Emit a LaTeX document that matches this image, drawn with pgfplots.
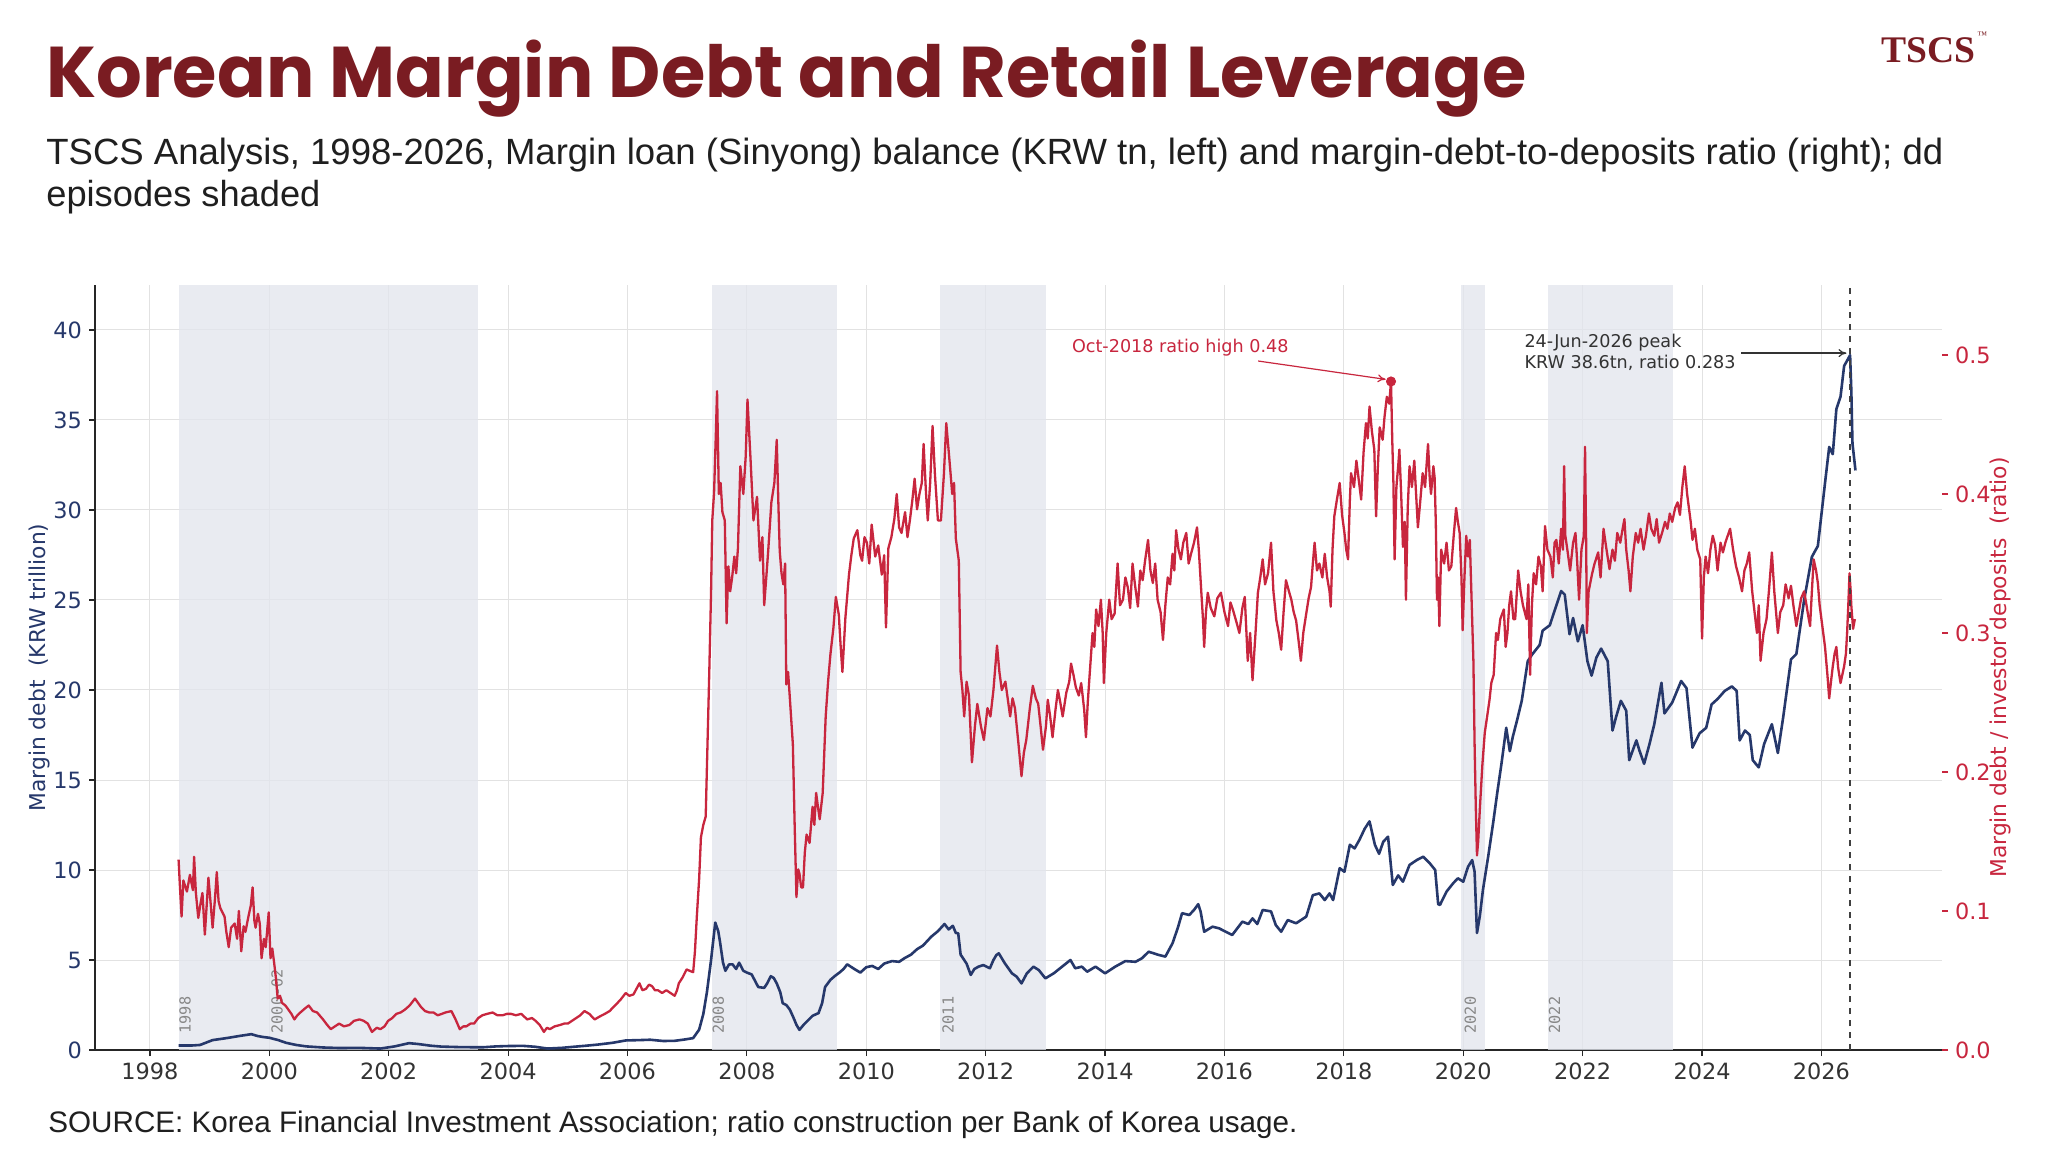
\documentclass[border=0pt]{standalone}
\usepackage{graphicx}
\usepackage{fontspec}
\setmainfont{DejaVu Sans}
\newfontfamily\titlefont{Poppins}
\newfontfamily\subfont{Liberation Sans}
\newfontfamily\logofont{Liberation Serif}
\newfontfamily\lblfont{DejaVu Sans Mono}
\usepackage{pgfplots}
\pgfplotsset{compat=1.18}
\usetikzlibrary{arrows.meta}

\definecolor{navy}{RGB}{38,56,107}
\definecolor{crim}{RGB}{200,38,62}
\definecolor{titlered}{RGB}{122,28,34}
\definecolor{shade}{RGB}{226,229,237}
\definecolor{gridc}{RGB}{226,226,226}
\definecolor{lblgray}{RGB}{135,135,135}

\pgfplotstableread{
x y
1998.48 0.25
1998.70 0.25
1998.84 0.28
1999.05 0.55
1999.20 0.62
1999.32 0.68
1999.50 0.78
1999.70 0.88
1999.80 0.78
1999.90 0.72
2000.00 0.68
2000.15 0.55
2000.28 0.40
2000.45 0.28
2000.62 0.20
2000.90 0.14
2001.17 0.11
2001.50 0.12
2001.86 0.08
2002.10 0.20
2002.34 0.38
2002.50 0.33
2002.70 0.24
2002.88 0.19
2003.20 0.16
2003.57 0.15
2003.80 0.20
2004.00 0.22
2004.25 0.23
2004.45 0.18
2004.66 0.08
2004.90 0.12
2005.10 0.18
2005.28 0.23
2005.50 0.30
2005.75 0.40
2005.97 0.53
2006.20 0.55
2006.38 0.57
2006.60 0.50
2006.79 0.51
2006.95 0.58
2007.10 0.66
2007.20 1.13
2007.27 2.0
2007.33 3.2
2007.40 5.0
2007.47 7.08
2007.52 6.6
2007.55 6.0
2007.60 4.85
2007.64 4.4
2007.70 4.75
2007.76 4.76
2007.82 4.5
2007.87 4.85
2007.94 4.4
2008.00 4.3
2008.08 4.2
2008.19 3.5
2008.29 3.45
2008.34 3.7
2008.40 4.1
2008.45 4.0
2008.50 3.7
2008.56 3.2
2008.60 2.6
2008.66 2.5
2008.72 2.24
2008.78 1.8
2008.83 1.4
2008.88 1.12
2008.95 1.4
2009.04 1.7
2009.10 1.9
2009.20 2.05
2009.26 2.6
2009.31 3.5
2009.40 3.9
2009.47 4.1
2009.55 4.3
2009.62 4.5
2009.68 4.76
2009.80 4.5
2009.90 4.3
2010.00 4.6
2010.10 4.67
2010.20 4.5
2010.30 4.8
2010.43 4.94
2010.55 4.9
2010.64 5.1
2010.75 5.3
2010.85 5.6
2010.95 5.8
2011.09 6.3
2011.20 6.6
2011.31 7.0
2011.38 6.7
2011.45 6.9
2011.50 6.5
2011.54 6.48
2011.58 5.3
2011.62 5.1
2011.68 4.8
2011.75 4.17
2011.81 4.5
2011.88 4.63
2011.96 4.72
2012.07 4.54
2012.13 5.0
2012.18 5.28
2012.22 5.37
2012.32 4.82
2012.44 4.26
2012.52 4.07
2012.60 3.7
2012.69 4.26
2012.80 4.63
2012.89 4.44
2013.00 3.98
2013.14 4.26
2013.28 4.63
2013.42 5.0
2013.50 4.54
2013.61 4.63
2013.70 4.35
2013.84 4.63
2014.00 4.26
2014.17 4.63
2014.34 4.94
2014.51 4.9
2014.62 5.1
2014.73 5.46
2014.90 5.28
2015.01 5.19
2015.13 5.93
2015.22 6.8
2015.29 7.6
2015.41 7.5
2015.49 7.78
2015.56 8.1
2015.60 7.7
2015.66 6.57
2015.80 6.85
2015.91 6.76
2016.02 6.57
2016.13 6.39
2016.30 7.13
2016.40 7.0
2016.47 7.31
2016.55 7.0
2016.64 7.78
2016.78 7.7
2016.86 6.94
2016.95 6.57
2017.06 7.22
2017.20 7.04
2017.37 7.41
2017.48 8.6
2017.59 8.7
2017.68 8.33
2017.76 8.7
2017.82 8.33
2017.93 10.1
2018.01 9.9
2018.10 11.4
2018.18 11.2
2018.26 11.67
2018.35 12.3
2018.43 12.7
2018.52 11.4
2018.59 10.9
2018.66 11.57
2018.74 11.85
2018.82 9.17
2018.91 9.7
2018.99 9.35
2019.10 10.28
2019.22 10.55
2019.33 10.74
2019.44 10.37
2019.53 10.0
2019.58 8.1
2019.61 8.06
2019.72 8.8
2019.83 9.26
2019.91 9.54
2020.00 9.35
2020.08 10.18
2020.15 10.55
2020.19 9.9
2020.23 6.5
2020.28 7.5
2020.33 8.9
2020.42 10.8
2020.50 12.6
2020.57 14.3
2020.64 15.9
2020.72 17.9
2020.78 16.6
2020.83 17.4
2020.90 18.3
2020.98 19.4
2021.08 21.6
2021.16 22.0
2021.28 22.5
2021.33 23.3
2021.45 23.6
2021.53 24.4
2021.64 25.5
2021.70 25.3
2021.78 23.1
2021.84 24.0
2021.92 22.7
2022.00 23.6
2022.08 21.6
2022.15 20.8
2022.23 21.8
2022.31 22.3
2022.42 21.6
2022.50 17.75
2022.56 18.5
2022.64 19.4
2022.73 18.85
2022.78 16.1
2022.90 17.2
2022.95 16.65
2023.03 15.9
2023.12 17.0
2023.20 18.1
2023.32 20.4
2023.37 18.7
2023.50 19.3
2023.65 20.5
2023.74 20.1
2023.84 16.8
2023.96 17.6
2024.07 17.9
2024.16 19.2
2024.26 19.5
2024.38 19.95
2024.50 20.2
2024.58 19.95
2024.63 17.2
2024.72 17.75
2024.80 17.5
2024.85 16.1
2024.95 15.7
2025.04 17.0
2025.17 18.1
2025.27 16.5
2025.36 18.5
2025.49 21.7
2025.58 22.0
2025.71 25.0
2025.84 27.4
2025.94 28.0
2026.06 31.5
2026.13 33.5
2026.19 33.1
2026.25 35.6
2026.32 36.3
2026.38 38.0
2026.48 38.6
2026.50 36.7
2026.52 33.7
2026.54 33.1
2026.57 32.2
}\debt

\pgfplotstableread{
x y
1998.48 0.137
1998.50 0.120
1998.53 0.096
1998.56 0.122
1998.62 0.114
1998.67 0.126
1998.72 0.115
1998.74 0.139
1998.77 0.113
1998.81 0.095
1998.85 0.106
1998.88 0.113
1998.92 0.083
1998.98 0.124
1999.02 0.104
1999.05 0.088
1999.09 0.109
1999.12 0.128
1999.15 0.107
1999.18 0.102
1999.25 0.096
1999.28 0.085
1999.32 0.074
1999.36 0.088
1999.42 0.091
1999.46 0.080
1999.49 0.100
1999.53 0.071
1999.57 0.089
1999.60 0.085
1999.65 0.096
1999.69 0.104
1999.72 0.117
1999.75 0.093
1999.77 0.088
1999.81 0.098
1999.84 0.091
1999.87 0.066
1999.91 0.080
1999.94 0.074
1999.99 0.099
2000.02 0.066
2000.05 0.073
2000.08 0.063
2000.11 0.052
2000.14 0.037
2000.18 0.039
2000.21 0.034
2000.27 0.032
2000.32 0.029
2000.37 0.026
2000.42 0.022
2000.47 0.025
2000.52 0.027
2000.60 0.030
2000.66 0.032
2000.73 0.028
2000.80 0.027
2000.86 0.024
2000.90 0.022
2000.97 0.018
2001.03 0.015
2001.10 0.017
2001.17 0.019
2001.25 0.017
2001.34 0.018
2001.42 0.021
2001.51 0.022
2001.58 0.021
2001.65 0.019
2001.72 0.013
2001.80 0.016
2001.86 0.015
2001.93 0.017
2001.99 0.021
2002.06 0.023
2002.13 0.026
2002.20 0.027
2002.27 0.029
2002.35 0.032
2002.44 0.037
2002.49 0.034
2002.54 0.031
2002.61 0.028
2002.68 0.027
2002.75 0.027
2002.82 0.025
2002.89 0.026
2002.95 0.027
2003.05 0.028
2003.12 0.022
2003.19 0.015
2003.25 0.017
2003.30 0.017
2003.37 0.019
2003.43 0.019
2003.50 0.023
2003.57 0.025
2003.65 0.026
2003.74 0.027
2003.82 0.025
2003.91 0.025
2003.98 0.026
2004.05 0.026
2004.13 0.025
2004.22 0.026
2004.32 0.022
2004.40 0.023
2004.46 0.021
2004.53 0.018
2004.60 0.013
2004.65 0.016
2004.70 0.015
2004.78 0.017
2004.87 0.018
2004.94 0.019
2005.00 0.019
2005.07 0.021
2005.14 0.023
2005.21 0.025
2005.28 0.028
2005.36 0.026
2005.45 0.022
2005.53 0.024
2005.62 0.026
2005.70 0.028
2005.79 0.032
2005.88 0.036
2005.97 0.041
2006.03 0.039
2006.10 0.040
2006.15 0.044
2006.20 0.048
2006.25 0.043
2006.31 0.044
2006.36 0.047
2006.41 0.046
2006.46 0.043
2006.51 0.043
2006.58 0.041
2006.65 0.043
2006.72 0.041
2006.79 0.039
2006.83 0.043
2006.86 0.048
2006.92 0.052
2006.99 0.058
2007.04 0.057
2007.10 0.056
2007.13 0.071
2007.16 0.095
2007.20 0.123
2007.23 0.153
2007.27 0.162
2007.31 0.168
2007.34 0.220
2007.37 0.272
2007.40 0.330
2007.42 0.381
2007.45 0.401
2007.48 0.443
2007.50 0.474
2007.53 0.400
2007.56 0.408
2007.59 0.387
2007.63 0.381
2007.66 0.307
2007.69 0.348
2007.72 0.330
2007.75 0.339
2007.79 0.355
2007.82 0.343
2007.85 0.361
2007.89 0.420
2007.94 0.400
2007.98 0.427
2008.01 0.468
2008.06 0.426
2008.11 0.381
2008.17 0.398
2008.22 0.352
2008.26 0.369
2008.29 0.320
2008.33 0.343
2008.36 0.361
2008.41 0.394
2008.46 0.408
2008.50 0.439
2008.53 0.389
2008.55 0.359
2008.58 0.343
2008.61 0.335
2008.64 0.350
2008.66 0.263
2008.69 0.272
2008.72 0.253
2008.75 0.233
2008.77 0.220
2008.80 0.162
2008.83 0.110
2008.86 0.130
2008.88 0.127
2008.91 0.117
2008.94 0.117
2008.97 0.142
2009.00 0.155
2009.05 0.149
2009.10 0.175
2009.13 0.162
2009.16 0.185
2009.19 0.175
2009.22 0.166
2009.27 0.185
2009.32 0.240
2009.36 0.265
2009.40 0.285
2009.45 0.304
2009.49 0.326
2009.54 0.313
2009.57 0.291
2009.60 0.272
2009.65 0.311
2009.71 0.342
2009.75 0.356
2009.79 0.368
2009.85 0.374
2009.90 0.356
2009.93 0.352
2009.97 0.369
2010.01 0.365
2010.05 0.350
2010.09 0.378
2010.15 0.355
2010.20 0.363
2010.26 0.342
2010.30 0.356
2010.33 0.304
2010.37 0.361
2010.42 0.369
2010.47 0.382
2010.51 0.400
2010.55 0.376
2010.59 0.372
2010.65 0.387
2010.69 0.369
2010.73 0.381
2010.77 0.395
2010.81 0.411
2010.85 0.389
2010.89 0.400
2010.93 0.408
2010.96 0.436
2011.00 0.401
2011.03 0.381
2011.07 0.408
2011.11 0.449
2011.15 0.414
2011.20 0.381
2011.25 0.381
2011.30 0.414
2011.34 0.451
2011.39 0.426
2011.44 0.400
2011.47 0.408
2011.50 0.368
2011.55 0.352
2011.58 0.272
2011.61 0.259
2011.64 0.240
2011.68 0.265
2011.72 0.255
2011.77 0.207
2011.82 0.233
2011.86 0.249
2011.92 0.233
2011.97 0.223
2012.03 0.246
2012.08 0.240
2012.13 0.259
2012.19 0.291
2012.23 0.272
2012.27 0.259
2012.33 0.265
2012.41 0.240
2012.45 0.253
2012.49 0.246
2012.55 0.220
2012.60 0.197
2012.64 0.214
2012.68 0.223
2012.74 0.246
2012.79 0.262
2012.84 0.253
2012.88 0.249
2012.92 0.233
2012.96 0.216
2013.01 0.233
2013.04 0.252
2013.08 0.240
2013.12 0.225
2013.17 0.245
2013.21 0.259
2013.25 0.250
2013.29 0.240
2013.35 0.257
2013.40 0.265
2013.43 0.278
2013.47 0.270
2013.51 0.261
2013.56 0.255
2013.60 0.264
2013.65 0.245
2013.68 0.225
2013.71 0.250
2013.74 0.269
2013.79 0.300
2013.82 0.290
2013.85 0.317
2013.89 0.305
2013.93 0.324
2013.96 0.300
2013.98 0.264
2014.02 0.300
2014.07 0.324
2014.11 0.310
2014.16 0.314
2014.21 0.350
2014.25 0.320
2014.30 0.324
2014.34 0.340
2014.38 0.333
2014.42 0.318
2014.46 0.350
2014.50 0.335
2014.55 0.319
2014.59 0.345
2014.63 0.338
2014.67 0.352
2014.72 0.367
2014.76 0.345
2014.80 0.336
2014.84 0.350
2014.88 0.324
2014.93 0.315
2014.97 0.295
2015.01 0.320
2015.05 0.340
2015.09 0.335
2015.13 0.357
2015.16 0.345
2015.19 0.374
2015.23 0.360
2015.27 0.353
2015.31 0.365
2015.36 0.372
2015.40 0.350
2015.44 0.357
2015.49 0.365
2015.54 0.376
2015.57 0.360
2015.61 0.331
2015.64 0.310
2015.66 0.290
2015.69 0.315
2015.72 0.329
2015.77 0.318
2015.83 0.312
2015.88 0.325
2015.94 0.329
2016.00 0.315
2016.06 0.305
2016.10 0.322
2016.14 0.317
2016.20 0.308
2016.25 0.300
2016.30 0.318
2016.34 0.326
2016.39 0.280
2016.43 0.300
2016.47 0.266
2016.52 0.300
2016.56 0.329
2016.60 0.340
2016.64 0.353
2016.68 0.335
2016.73 0.343
2016.78 0.365
2016.82 0.330
2016.87 0.309
2016.91 0.300
2016.95 0.288
2016.99 0.315
2017.03 0.338
2017.08 0.330
2017.12 0.324
2017.16 0.315
2017.20 0.309
2017.24 0.295
2017.28 0.280
2017.32 0.300
2017.37 0.314
2017.41 0.325
2017.45 0.333
2017.48 0.350
2017.51 0.365
2017.55 0.345
2017.59 0.350
2017.64 0.340
2017.68 0.357
2017.72 0.340
2017.76 0.330
2017.78 0.319
2017.81 0.360
2017.84 0.384
2017.88 0.395
2017.93 0.408
2017.97 0.385
2018.01 0.372
2018.04 0.360
2018.07 0.353
2018.10 0.395
2018.12 0.415
2018.17 0.405
2018.21 0.424
2018.25 0.410
2018.29 0.396
2018.33 0.430
2018.37 0.451
2018.40 0.440
2018.43 0.463
2018.47 0.445
2018.51 0.432
2018.54 0.384
2018.57 0.420
2018.60 0.448
2018.65 0.439
2018.68 0.455
2018.72 0.470
2018.76 0.465
2018.79 0.481
2018.81 0.440
2018.83 0.408
2018.85 0.353
2018.88 0.405
2018.91 0.420
2018.93 0.432
2018.96 0.400
2018.99 0.362
2019.02 0.380
2019.04 0.324
2019.07 0.390
2019.10 0.420
2019.14 0.405
2019.18 0.424
2019.21 0.400
2019.24 0.376
2019.28 0.395
2019.32 0.415
2019.36 0.405
2019.41 0.436
2019.44 0.410
2019.46 0.400
2019.50 0.420
2019.52 0.412
2019.54 0.380
2019.56 0.324
2019.58 0.340
2019.60 0.305
2019.63 0.360
2019.68 0.350
2019.72 0.365
2019.76 0.345
2019.80 0.348
2019.84 0.370
2019.88 0.390
2019.91 0.380
2019.94 0.372
2019.97 0.340
2019.99 0.302
2020.02 0.340
2020.05 0.370
2020.08 0.355
2020.11 0.367
2020.15 0.309
2020.17 0.280
2020.19 0.220
2020.21 0.175
2020.23 0.140
2020.25 0.150
2020.28 0.175
2020.32 0.205
2020.36 0.228
2020.40 0.240
2020.44 0.252
2020.47 0.264
2020.51 0.270
2020.55 0.300
2020.58 0.295
2020.62 0.310
2020.68 0.317
2020.71 0.290
2020.74 0.300
2020.77 0.320
2020.80 0.330
2020.84 0.310
2020.87 0.310
2020.92 0.345
2020.96 0.330
2021.00 0.320
2021.06 0.310
2021.09 0.335
2021.12 0.270
2021.15 0.320
2021.18 0.343
2021.22 0.335
2021.26 0.355
2021.30 0.348
2021.33 0.330
2021.37 0.377
2021.41 0.360
2021.46 0.355
2021.50 0.340
2021.53 0.365
2021.56 0.367
2021.60 0.350
2021.64 0.375
2021.67 0.360
2021.69 0.420
2021.71 0.370
2021.75 0.358
2021.79 0.345
2021.84 0.365
2021.88 0.372
2021.91 0.350
2021.94 0.324
2021.98 0.360
2022.02 0.370
2022.04 0.434
2022.06 0.360
2022.07 0.300
2022.10 0.330
2022.16 0.343
2022.20 0.350
2022.26 0.358
2022.30 0.340
2022.35 0.375
2022.40 0.360
2022.45 0.346
2022.50 0.360
2022.54 0.352
2022.58 0.372
2022.63 0.365
2022.67 0.375
2022.70 0.382
2022.73 0.360
2022.77 0.345
2022.80 0.330
2022.84 0.355
2022.89 0.372
2022.93 0.365
2022.97 0.375
2023.02 0.360
2023.06 0.370
2023.11 0.386
2023.15 0.375
2023.20 0.370
2023.24 0.382
2023.28 0.365
2023.33 0.372
2023.38 0.380
2023.42 0.375
2023.46 0.386
2023.50 0.380
2023.55 0.390
2023.59 0.394
2023.63 0.385
2023.67 0.405
2023.71 0.420
2023.75 0.400
2023.78 0.390
2023.81 0.380
2023.84 0.367
2023.88 0.375
2023.92 0.360
2023.97 0.353
2024.00 0.296
2024.03 0.340
2024.06 0.355
2024.10 0.343
2024.14 0.360
2024.18 0.370
2024.22 0.363
2024.26 0.345
2024.31 0.365
2024.35 0.358
2024.39 0.365
2024.43 0.370
2024.47 0.375
2024.52 0.360
2024.57 0.348
2024.62 0.340
2024.67 0.330
2024.71 0.345
2024.75 0.350
2024.79 0.358
2024.84 0.330
2024.88 0.315
2024.92 0.300
2024.95 0.320
2024.98 0.280
2025.03 0.300
2025.08 0.310
2025.12 0.330
2025.17 0.358
2025.21 0.330
2025.24 0.315
2025.27 0.300
2025.31 0.315
2025.36 0.320
2025.40 0.335
2025.45 0.325
2025.49 0.334
2025.53 0.320
2025.58 0.305
2025.62 0.315
2025.66 0.325
2025.71 0.330
2025.75 0.320
2025.78 0.312
2025.81 0.305
2025.84 0.330
2025.87 0.353
2025.91 0.345
2025.94 0.336
2025.97 0.320
2026.00 0.310
2026.03 0.300
2026.06 0.290
2026.10 0.270
2026.13 0.253
2026.16 0.265
2026.19 0.276
2026.22 0.285
2026.25 0.290
2026.28 0.275
2026.32 0.264
2026.35 0.270
2026.38 0.276
2026.41 0.285
2026.43 0.300
2026.45 0.320
2026.47 0.343
2026.49 0.330
2026.50 0.320
2026.53 0.303
2026.56 0.310
}\ratio

\begin{document}
\begin{tikzpicture}[x=1pt,y=1pt]
\useasboundingbox (0,0) rectangle (1024,575.5);
\fill[white] (0,0) rectangle (1024,575.5);

% titles
\node[anchor=base west, inner sep=0, text=titlered] at (23,526.5)
  {\resizebox{740pt}{!}{\titlefont\bfseries Korean Margin Debt and Retail Leverage}};
\node[anchor=base west, inner sep=0, text=black!88] at (23,493.2)
  {\resizebox{948.5pt}{!}{\subfont TSCS Analysis, 1998-2026, Margin loan (Sinyong) balance (KRW tn, left) and margin-debt-to-deposits ratio (right); dd}};
\node[anchor=base west, inner sep=0, text=black!88] at (23,472.2)
  {\resizebox{137pt}{!}{\subfont episodes shaded}};
\node[anchor=base west, inner sep=0, text=black!88] at (24,9.5)
  {\resizebox{624.5pt}{!}{\subfont SOURCE: Korea Financial Investment Association; ratio construction per Bank of Korea usage.}};
\node[anchor=base west, inner sep=0, text=titlered] at (940.5,544)
  {\resizebox{47pt}{!}{\logofont\bfseries TSCS}};
\node[anchor=base west, inner sep=0, text=titlered] at (988.5,556)
  {\logofont\fontsize{5}{6}\selectfont ™};

\begin{axis}[
  at={(47.5pt,50.5pt)}, anchor=south west,
  width=923.5pt, height=382.5pt, scale only axis,
  xmin=1997.08, xmax=2028.02, ymin=0, ymax=42.5,
  axis x line*=bottom, axis y line*=left,
  axis line style={black!85, line width=0.7pt},
  xtick={1998,2000,2002,2004,2006,2008,2010,2012,2014,2016,2018,2020,2022,2024,2026},
  xticklabels={1998,2000,2002,2004,2006,2008,2010,2012,2014,2016,2018,2020,2022,2024,2026},
  ytick={0,5,10,15,20,25,30,35,40},
  yticklabels={0,5,10,15,20,25,30,35,40},
  /pgf/number format/assume math mode=true,
  tick align=outside, major tick length=3pt,
  tick style={black!85, line width=0.6pt},
  grid=major, grid style={gridc, line width=0.5pt},
  xticklabel style={font=\fontsize{11.2}{13}\selectfont, text=black!80},
  yticklabel style={font=\fontsize{11.2}{13}\selectfont, text=navy},
  ylabel={Margin debt\ \ (KRW trillion)},
  ylabel style={at={(axis description cs:-0.0298,0.5)}, anchor=center, text=navy, font=\fontsize{10.9}{12}\selectfont},
  clip=false,
]
\addplot[fill=shade, draw=none, fill opacity=0.75] coordinates {(1998.49,42.5) (2003.50,42.5)} \closedcycle;
\addplot[fill=shade, draw=none, fill opacity=0.75] coordinates {(2007.41,42.5) (2009.51,42.5)} \closedcycle;
\addplot[fill=shade, draw=none, fill opacity=0.75] coordinates {(2011.24,42.5) (2013.01,42.5)} \closedcycle;
\addplot[fill=shade, draw=none, fill opacity=0.75] coordinates {(2019.97,42.5) (2020.37,42.5)} \closedcycle;
\addplot[fill=shade, draw=none, fill opacity=0.75] coordinates {(2021.42,42.5) (2023.51,42.5)} \closedcycle;

\addplot[navy, line width=1.3pt, line join=round] table[x=x,y=y] {\debt};

\begin{scope}[every node/.style={rotate=90, anchor=west, inner sep=0, text=lblgray, font=\lblfont\fontsize{7.6}{9}\selectfont}]
\node at (axis cs:1998.59,0.9) {1998};
\node at (axis cs:2000.13,0.9) {2000-02};
\node at (axis cs:2007.52,0.9) {2008};
\node at (axis cs:2011.37,0.9) {2011};
\node at (axis cs:2020.12,0.9) {2020};
\node at (axis cs:2021.53,0.9) {2022};
\end{scope}
\end{axis}

\begin{axis}[
  at={(47.5pt,50.5pt)}, anchor=south west,
  width=923.5pt, height=382.5pt, scale only axis,
  xmin=1997.08, xmax=2028.02, ymin=0, ymax=0.5504,
  axis x line=none, axis y line*=right,
  y axis line style={draw=none},
  ytick={0,0.1,0.2,0.3,0.4,0.5},
  yticklabels={0.0,0.1,0.2,0.3,0.4,0.5},
  /pgf/number format/assume math mode=true,
  tick align=outside, major tick length=3pt,
  ytick style={crim, line width=0.6pt},
  yticklabel style={font=\fontsize{11.2}{13}\selectfont, text=crim},
  ylabel={Margin debt / investor deposits\ \ (ratio)},
  ylabel style={at={(axis description cs:1.0314,0.5)}, anchor=center, text=crim, font=\fontsize{10.9}{12}\selectfont},
  clip=false,
]
\addplot[crim, line width=1.15pt, line join=round] table[x=x,y=y] {\ratio};
\addplot[only marks, mark=*, mark size=2.3pt, crim] coordinates {(2018.79,0.481)};

\node[text=crim, font=\fontsize{8.8}{10}\selectfont, inner sep=0] at (axis cs:2015.26,0.5050) {Oct-2018 ratio high 0.48};
\draw[crim, line width=0.6pt, -{To[length=4pt,width=4pt]}] (axis cs:2016.565,0.4957) -- (axis cs:2018.70,0.4825);

\draw[black!75, dashed, line width=0.6pt] (axis cs:2026.48,0) -- (axis cs:2026.48,0.5504);

\node[anchor=west, align=left, text=black!80, inner sep=0, font=\fontsize{8.8}{10.5}\selectfont] at (axis cs:2021.02,0.5020) {24-Jun-2026 peak\\KRW 38.6tn, ratio 0.283};
\draw[black!80, line width=0.6pt, -{To[length=4pt,width=4pt]}] (axis cs:2024.66,0.5014) -- (axis cs:2026.42,0.5014);
\end{axis}
\end{tikzpicture}
\end{document}
